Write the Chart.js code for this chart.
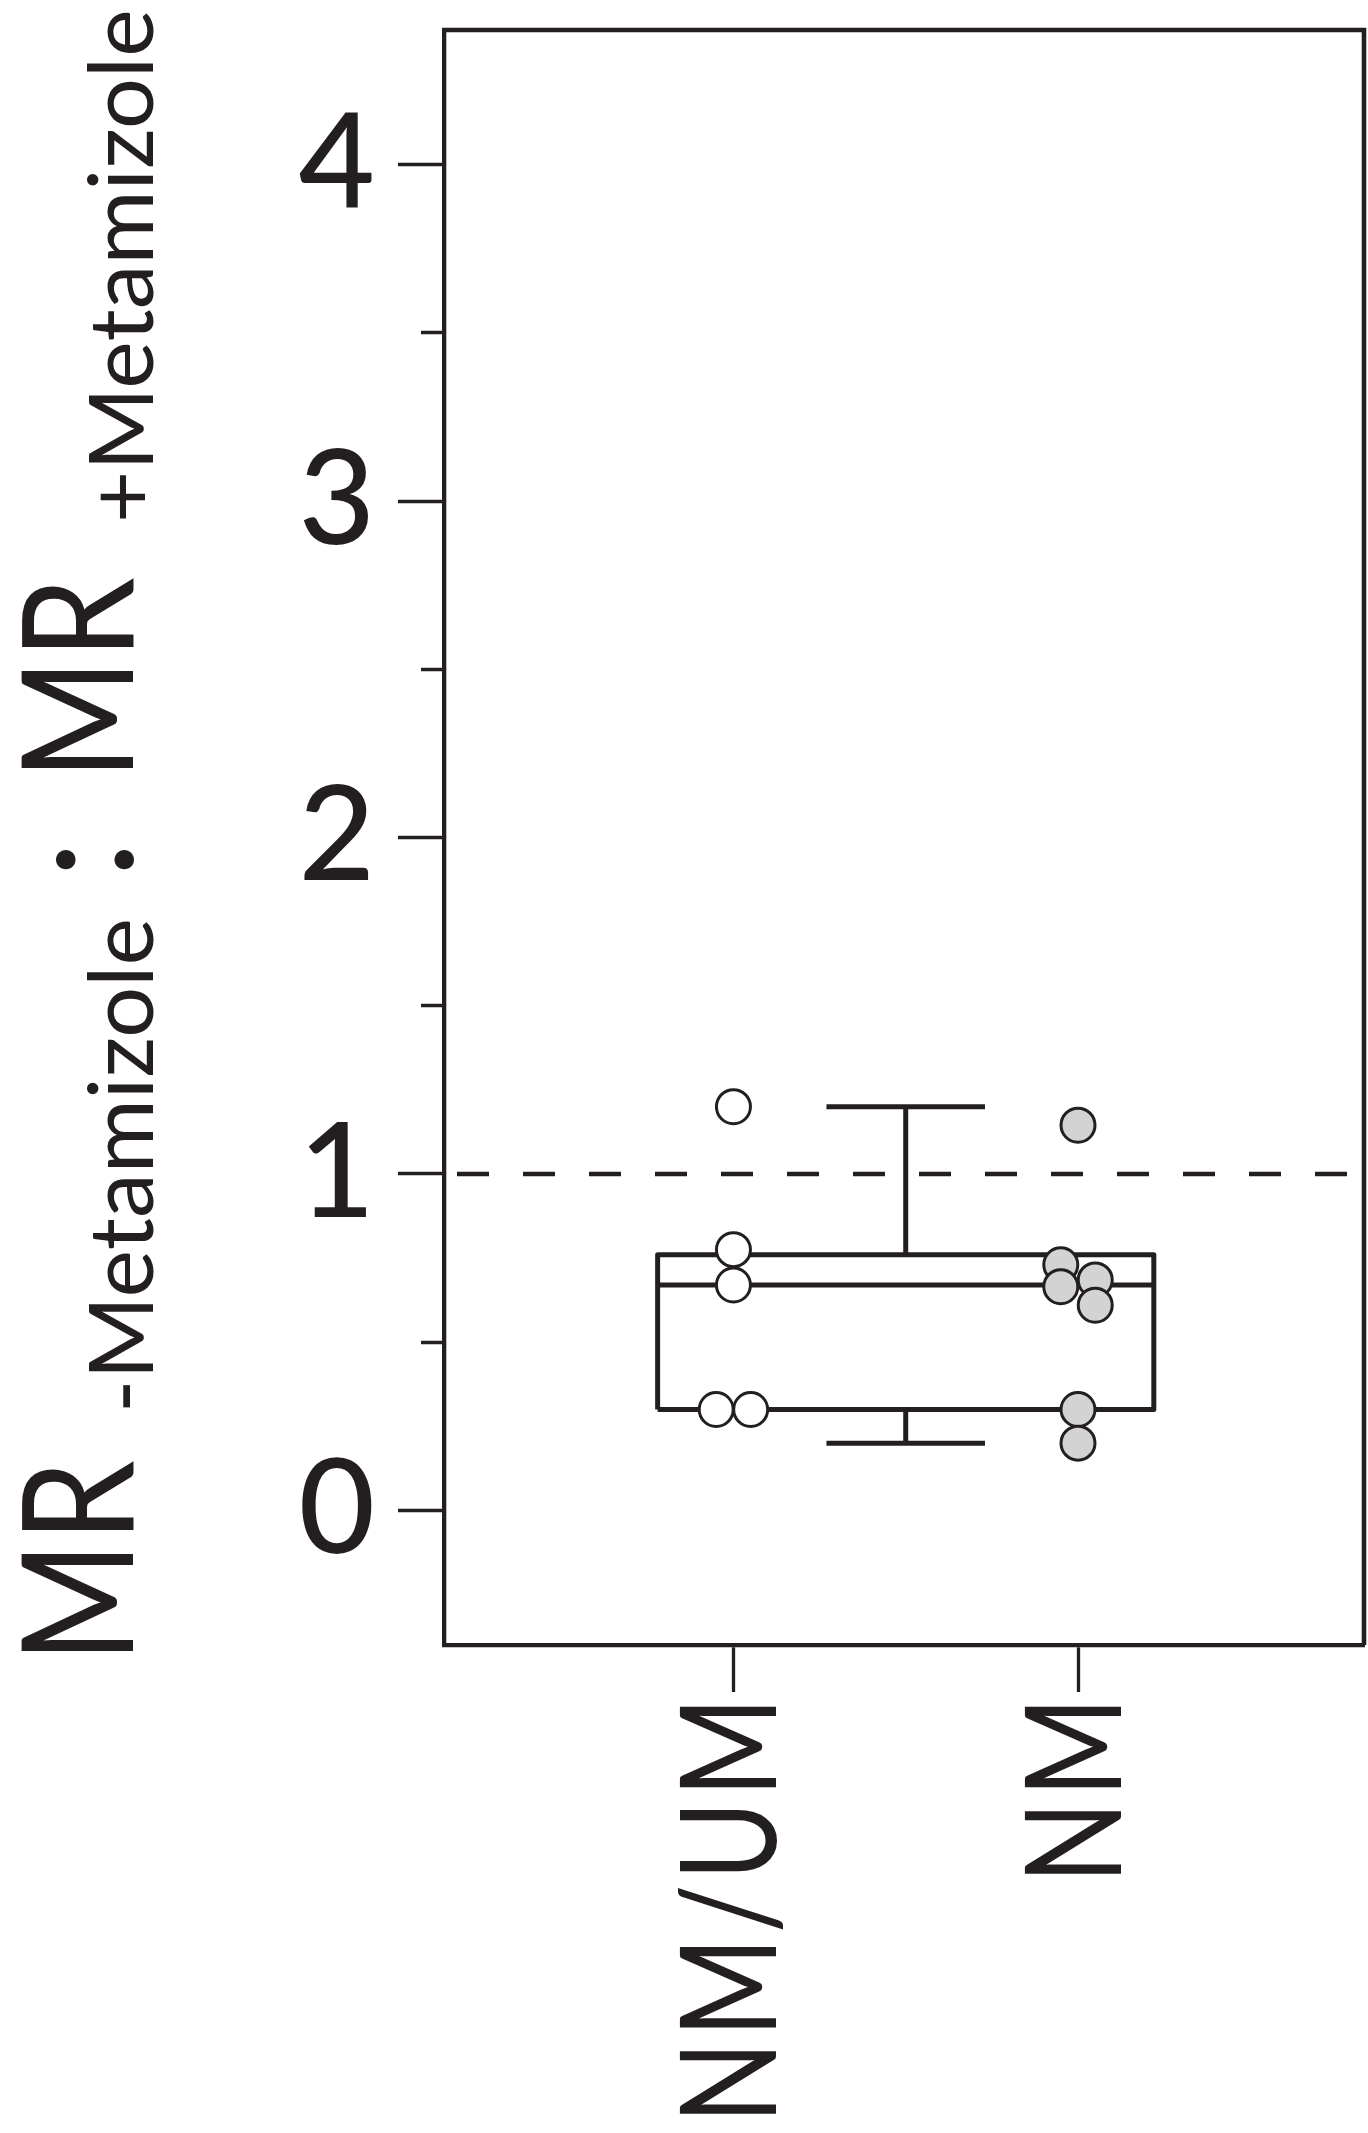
<!DOCTYPE html>
<html>
<head>
<meta charset="utf-8">
<script src="https://cdn.jsdelivr.net/npm/chart.js@4.4.1/dist/chart.umd.min.js"></script>
<style>
  html, body { margin: 0; padding: 0; background: #fff; }
  #wrap { width: 1368px; height: 2133px; }
</style>
</head>
<body>
<div id="wrap"><canvas id="ratioChart"></canvas></div>
<script>
// Groups on the x axis
const groups = ["NM/UM", "NM"];

// MR(-metamizole) : MR(+metamizole) per subject
const nmumRatios = [1.20, 0.775, 0.67, 0.30, 0.30];
const nmRatios = [1.145, 0.73, 0.665, 0.685, 0.61, 0.30, 0.20];

// Pooled box summary: min, Q1, median, Q3, max
const boxSummary = [0.20, 0.30, 0.67, 0.76, 1.20];

// Reference line (no change)
const refRatio = 1;

// Y axis range and tick labels
const yRange = [-0.4, 4.4];
const yTickLabels = ["0", "1", "2", "3", "4"];

// Horizontal spread of overlapping dots (x units)
const nmumJitter = [0, 0, 0, -0.05, 0.05];
const nmJitter = [0, -0.05, -0.05, 0.05, 0.05, 0, 0];

const ink = "#231f20";
const xMin = 0.16, xMax = 2.83;
const boxCenter = 1.5, boxHalf = 0.72, capHalf = 0.23;

const [wLow, q1, med, q3, wHigh] = boxSummary;

function dots(values, jitter, groupIndex) {
  return values.map((v, i) => ({ x: groupIndex + 1 + jitter[i], y: v }));
}

function lineSet(points, extra) {
  return Object.assign({
    type: "scatter",
    data: points,
    showLine: true,
    borderColor: ink,
    borderWidth: 5,
    borderJoinStyle: "round",
    pointRadius: 0,
    fill: false,
    spanGaps: false,
  }, extra || {});
}

// Rotated y axis title with subscripts
const titleParts = [
  { text: "MR", size: 155, at: 0, drop: 0, squeeze: 0.84 },
  { text: "-Metamizole", size: 90, at: 250, drop: 20, squeeze: 1 },
  { text: ":", size: 155, at: 784, drop: 0, squeeze: 1 },
  { text: "MR", size: 155, at: 883, drop: 0, squeeze: 0.84 },
  { text: "+Metamizole", size: 90, at: 1140, drop: 20, squeeze: 1 },
];

const yTitle = {
  id: "yTitle",
  afterDraw(chart) {
    const ctx = chart.ctx;
    ctx.save();
    ctx.translate(133, chart.chartArea.bottom + 18);
    ctx.rotate(-Math.PI / 2);
    ctx.fillStyle = ink;
    ctx.textBaseline = "alphabetic";
    ctx.textAlign = "left";
    for (const p of titleParts) {
      ctx.save();
      ctx.font = `400 ${p.size}px Lato`;
      ctx.translate(p.at, p.drop);
      ctx.scale(p.squeeze, 1);
      ctx.fillText(p.text, 0, 0);
      ctx.restore();
    }
    ctx.restore();
  },
};

// Group names under the x axis, rotated and slightly narrowed
const groupLabels = {
  id: "groupLabels",
  afterDraw(chart) {
    const xs = chart.scales.x;
    const ctx = chart.ctx;
    ctx.save();
    ctx.fillStyle = ink;
    ctx.font = "400 133px Lato";
    ctx.letterSpacing = "5px";
    ctx.textAlign = "right";
    ctx.textBaseline = "middle";
    groups.forEach((g, i) => {
      ctx.save();
      ctx.translate(xs.getPixelForValue(i + 1), xs.top + 47 + 1);
      ctx.rotate(-Math.PI / 2);
      ctx.scale(0.81, 1);
      ctx.fillText(g, 0, 0);
      ctx.restore();
    });
    ctx.restore();
  },
};

// Top and right edges of the plot frame
const frame = {
  id: "frame",
  afterDraw(chart) {
    const { left, right, top, bottom } = chart.chartArea;
    const ctx = chart.ctx;
    ctx.save();
    ctx.strokeStyle = ink;
    ctx.lineWidth = 4.6;
    ctx.beginPath();
    ctx.moveTo(left - 2, top);
    ctx.lineTo(right, top);
    ctx.lineTo(right, bottom);
    ctx.stroke();
    ctx.restore();
  },
};

new Chart(document.getElementById("ratioChart"), {
  type: "scatter",
  data: {
    datasets: [
      {
        label: groups[0],
        data: dots(nmumRatios, nmumJitter, 0),
        pointRadius: 17,
        pointBorderWidth: 3,
        borderColor: ink,
        backgroundColor: "#ffffff",
      },
      {
        label: groups[1],
        data: dots(nmRatios, nmJitter, 1),
        pointRadius: 17,
        pointBorderWidth: 3,
        borderColor: ink,
        backgroundColor: "#d3d3d3",
      },
      // box
      lineSet([
        { x: boxCenter - boxHalf, y: q1 },
        { x: boxCenter - boxHalf, y: q3 },
        { x: boxCenter + boxHalf, y: q3 },
        { x: boxCenter + boxHalf, y: q1 },
        { x: boxCenter - boxHalf, y: q1 },
      ]),
      // median
      lineSet([
        { x: boxCenter - boxHalf, y: med },
        { x: boxCenter + boxHalf, y: med },
      ]),
      // whiskers and caps
      lineSet([
        { x: boxCenter, y: q3 },
        { x: boxCenter, y: wHigh },
        { x: boxCenter - capHalf, y: null },
        { x: boxCenter - capHalf, y: wHigh },
        { x: boxCenter + capHalf, y: wHigh },
        { x: boxCenter + capHalf, y: null },
        { x: boxCenter, y: q1 },
        { x: boxCenter, y: wLow },
        { x: boxCenter - capHalf, y: null },
        { x: boxCenter - capHalf, y: wLow },
        { x: boxCenter + capHalf, y: wLow },
      ]),
      // dashed reference at ratio 1
      lineSet([
        { x: xMin, y: refRatio },
        { x: xMax, y: refRatio },
      ], { borderWidth: 4.5, borderDash: [32, 34], borderDashOffset: 53 }),
    ],
  },
  options: {
    responsive: true,
    maintainAspectRatio: false,
    animation: false,
    events: [],
    layout: { autoPadding: false, padding: { top: 30, right: 4, left: 0, bottom: 0 } },
    plugins: {
      legend: { display: false },
      tooltip: { enabled: false },
    },
    scales: {
      x: {
        type: "linear",
        min: xMin,
        max: xMax,
        afterFit: (scale) => {
          scale.height = 488;
          scale.paddingLeft = 0;
          scale.paddingRight = 0;
        },
        afterBuildTicks: (scale) => {
          scale.ticks = groups.map((g, i) => ({ value: i + 1 }));
        },
        border: { display: true, color: ink, width: 4.3 },
        grid: {
          drawOnChartArea: false,
          tickLength: 47,
          tickWidth: 3.3,
          tickColor: ink,
        },
        ticks: { display: false },
      },
      y: {
        type: "linear",
        min: yRange[0],
        max: yRange[1],
        afterFit: (scale) => {
          scale.width = 444;
          scale.paddingTop = 0;
          scale.paddingBottom = 0;
        },
        border: { display: true, color: ink, width: 4.3 },
        grid: {
          drawOnChartArea: false,
          tickLength: 46,
          tickWidth: 3.3,
          tickColor: ink,
          tickBorderDash: (ctx) => (ctx.tick && ctx.tick.value % 1 !== 0 ? [0, 23, 23, 0] : []),
        },
        ticks: {
          stepSize: 0.5,
          includeBounds: false,
          padding: 23,
          color: ink,
          font: { family: "Lato", size: 132, weight: 500 },
          callback: (value) => (value % 1 === 0 ? yTickLabels[value] : ""),
        },
      },
    },
  },
  plugins: [yTitle, groupLabels, frame],
});
</script>
</body>
</html>
